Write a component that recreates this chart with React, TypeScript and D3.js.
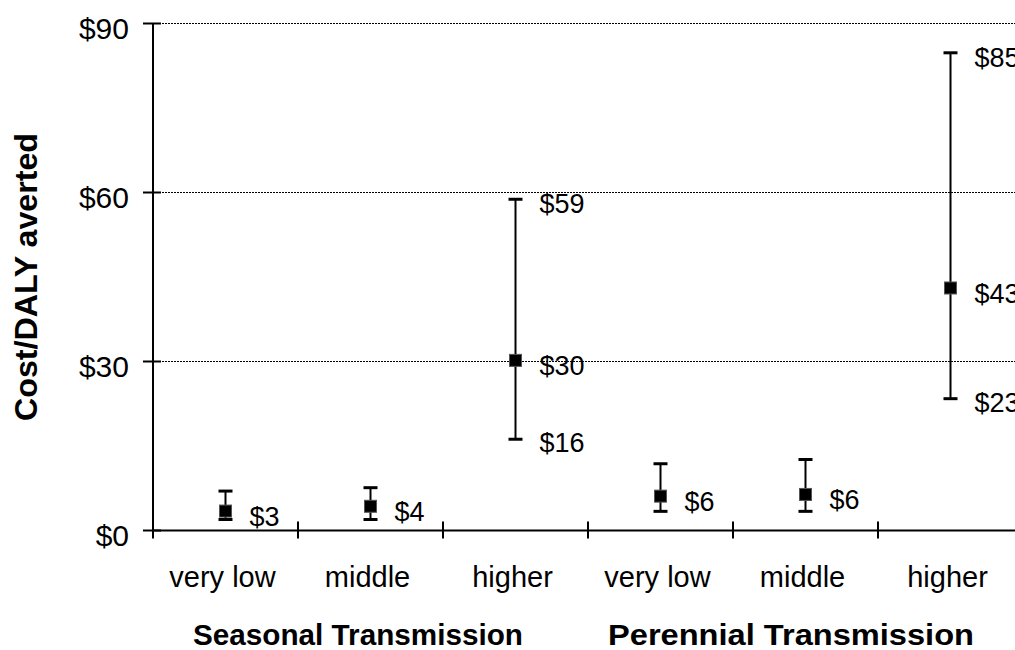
import React from "react";
import * as d3 from "d3";

// Cost per DALY averted by transmission setting and intensity level
const groups = ["Seasonal Transmission", "Perennial Transmission"];
const categories = [
  "S-very low", "S-middle", "S-higher",
  "P-very low", "P-middle", "P-higher",
];
const categoryLabels = ["very low", "middle", "higher", "very low", "middle", "higher"];
const meanValues = [3.45, 4.3, 30.2, 6.1, 6.4, 43.05];
const lowValues = [1.95, 1.95, 16.2, 3.4, 3.4, 23.4];
const highValues = [7.0, 7.6, 58.8, 11.85, 12.6, 84.8];
// whether the low/high ends carry their own labels
const showRangeLabels = [false, false, true, false, false, true];
const yTicks = [0, 30, 60, 90];

const FONT = "'Liberation Sans', Arial, sans-serif";

export default function App() {
  const W = 1015;
  const H = 650;
  const left = 153;
  const bandW = 145;

  const x = d3
    .scaleBand<string>()
    .domain(categories)
    .range([left, left + bandW * categories.length])
    .paddingInner(0)
    .paddingOuter(0);
  const y = d3.scaleLinear().domain([0, 90]).range([530.5, 23.5]);

  const money = (v: number) => "$" + d3.format(".0f")(v);
  const cx = (c: string) => (x(c) as number) + x.bandwidth() / 2;

  const tickXs = categories.map((c) => x(c) as number);
  const groupStarts = [193, 608];
  const groupWidths = [330, 366];

  return (
    <svg
      width={W}
      height={H}
      style={{ position: "absolute", left: 0, top: 0, background: "#fff" }}
      fontFamily={FONT}
    >
      {/* dotted gridlines */}
      {yTicks
        .filter((t) => t > 0)
        .map((t) => (
          <line
            key={"g" + t}
            x1={left}
            x2={x.range()[1]}
            y1={y(t)}
            y2={y(t)}
            stroke="#000"
            strokeWidth={1}
            strokeDasharray="2,1"
          />
        ))}

      {/* y axis */}
      <line x1={left} x2={left} y1={y(90)} y2={y(0)} stroke="#000" strokeWidth={2} />
      {yTicks.map((t) => (
        <g key={"yt" + t}>
          <line x1={143} x2={161} y1={y(t)} y2={y(t)} stroke="#000" strokeWidth={2} />
          <text x={129} y={y(t) + 15} textAnchor="end" fontSize={30} fill="#000">
            {money(t)}
          </text>
        </g>
      ))}

      {/* x axis */}
      <line x1={left} x2={x.range()[1]} y1={y(0)} y2={y(0)} stroke="#000" strokeWidth={2} />
      {tickXs.map((tx, i) => (
        <line key={"xt" + i} x1={tx} x2={tx} y1={y(0) - 9} y2={y(0) + 8} stroke="#000" strokeWidth={2} />
      ))}
      {categories.map((c, i) => (
        <text key={"cl" + c} x={cx(c) - 3} y={587} textAnchor="middle" fontSize={29} fill="#000">
          {categoryLabels[i]}
        </text>
      ))}
      {groups.map((g, i) => (
        <text
          key={g}
          x={groupStarts[i]}
          y={645}
          fontSize={30}
          fontWeight="bold"
          fill="#000"
          textLength={groupWidths[i]}
          lengthAdjust="spacingAndGlyphs"
        >
          {g}
        </text>
      ))}

      {/* y axis title */}
      <text
        transform={`translate(37, 277) rotate(-90)`}
        textAnchor="middle"
        fontSize={31}
        fontWeight="bold"
        fill="#000"
        textLength={288}
        lengthAdjust="spacingAndGlyphs"
      >
        Cost/DALY averted
      </text>

      {/* error bars, means and labels */}
      {categories.map((c, i) => {
        const px = cx(c);
        const yl = y(lowValues[i]);
        const yh = y(highValues[i]);
        const ym = y(meanValues[i]);
        return (
          <g key={"m" + c}>
            <line x1={px} x2={px} y1={yh} y2={yl} stroke="#000" strokeWidth={2} />
            <line x1={px - 7} x2={px + 7} y1={yh} y2={yh} stroke="#000" strokeWidth={3} />
            <line x1={px - 7} x2={px + 7} y1={yl} y2={yl} stroke="#000" strokeWidth={3} />
            <rect x={px - 6} y={ym - 6} width={12} height={12} fill="#000" stroke="#555" strokeWidth={1} />
            <text x={px + 24} y={ym + 15} fontSize={27} fill="#000">
              {money(meanValues[i])}
            </text>
            {showRangeLabels[i] && (
              <>
                <text x={px + 24} y={yh + 14} fontSize={27} fill="#000">
                  {money(highValues[i])}
                </text>
                <text x={px + 24} y={yl + 13} fontSize={27} fill="#000">
                  {money(lowValues[i])}
                </text>
              </>
            )}
          </g>
        );
      })}
    </svg>
  );
}
